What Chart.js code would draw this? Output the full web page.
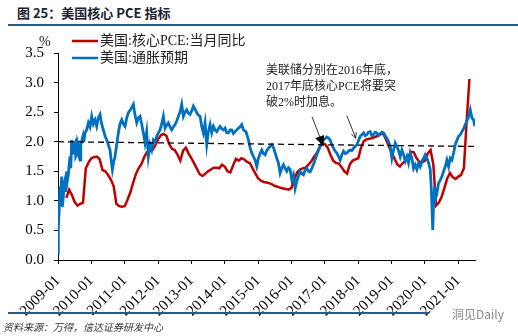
<!DOCTYPE html>
<html>
<head>
<meta charset="utf-8">
<script src="https://cdn.jsdelivr.net/npm/chart.js@4.4.1/dist/chart.umd.min.js"></script>
<style>
  body { margin: 0; background: #fff; }
  #wrap { position: relative; width: 518px; height: 336px; overflow: hidden; }
  #title { position: absolute; left: 17px; top: 3px; font: bold 13px "Noto Sans CJK SC", sans-serif; color: #1c2230; }
  .rule { position: absolute; left: 8px; height: 2px; background: #2b5a87; }
  #source { position: absolute; left: 3px; top: 319px; font: italic 10px "Noto Sans CJK SC", sans-serif; color: #333; }
  #mark { position: absolute; left: 452px; top: 305px; font: 12px "Noto Sans CJK SC", sans-serif; color: #8a8a8a; }
  canvas { position: absolute; left: 0; top: 0; }
</style>
</head>
<body>
<div id="wrap">
  <div id="title">图 25：美国核心 PCE 指标</div>
  <div class="rule" style="top:24px;width:510px;"></div>
  <canvas id="pce_chart" width="518" height="336"></canvas>
  <div class="rule" style="top:312px;width:420px;"></div>
  <div id="mark">洞见Daily</div>
  <div id="source">资料来源：万得，信达证券研发中心</div>
</div>
<script>
// x axis is months since 2009-01
const yearTicks = ['2009-01','2010-01','2011-01','2012-01','2013-01','2014-01','2015-01',
                   '2016-01','2017-01','2018-01','2019-01','2020-01','2021-01'];
const yTicks = [0, 0.5, 1, 1.5, 2, 2.5, 3, 3.5];

// core PCE yoy, monthly, first value is 2009-04 (month 3)
const pceStart = 3;
const corePce = [
  1.05,1.19,1.10,0.98,0.92,0.95,0.97,1.55,1.65,1.72,1.74,1.75,1.70,1.52,1.50,1.44,1.36,1.25,0.95,0.91,0.90,
  0.91,1.02,1.14,1.30,1.45,1.55,1.62,1.74,1.82,1.84,1.86,1.94,2.04,2.11,2.13,2.10,1.96,1.88,1.86,1.78,1.68,
  1.85,1.90,1.80,1.72,1.63,1.54,1.45,1.42,1.46,1.50,1.53,1.56,1.56,1.55,1.61,
  1.58,1.50,1.48,1.60,1.71,1.68,1.72,1.70,1.66,1.64,1.55,1.46,1.38,1.34,1.32,1.31,1.30,1.28,1.25,1.24,
  1.22,1.21,1.20,1.19,1.22,1.36,1.48,1.53,1.55,1.56,1.61,1.66,1.74,1.80,1.90,1.97,1.96,1.90,1.78,1.68,
  1.64,1.63,1.57,1.50,1.46,1.62,1.68,1.70,1.72,1.90,2.01,2.04,2.05,2.06,2.08,2.10,2.14,2.13,2.04,1.92,
  1.82,1.72,1.62,1.58,1.64,1.68,1.75,1.83,1.82,1.72,1.66,1.65,1.68,1.80,1.86,1.62,0.92,0.97,1.07,1.22,
  1.38,1.47,1.40,1.37,1.41,1.44,1.55,2.35,3.06
];

// inflation expectation, [month, value]
const expectPoints = [
  [0,0.12],[0.12,0.56],[0.5,0.9],[0.72,1.24],[1.0,1.05],[1.32,1.41],[1.56,0.90],[1.92,1.07],[2.2,1.3],
  [2.52,1.36],[2.8,1.15],[3.12,1.50],[3.4,1.35],[3.72,1.44],[4.0,1.6],[4.32,1.75],[4.6,1.55],[4.92,2.03],
  [5.2,1.8],[5.52,1.81],[5.8,1.95],[6.12,1.98],[6.4,1.75],[6.72,1.78],[7.0,2.0],[7.32,1.95],[7.6,1.75],
  [7.92,1.69],[8.2,1.95],[8.52,2.01],[9.0,2.1],[9.3,2.0],[9.72,2.15],[10.3,2.2],[10.92,2.32],[11.5,2.25],
  [12.12,2.43],[12.7,2.3],[13.32,2.37],[13.92,2.26],[14.5,2.4],[15.12,2.46],[15.7,2.3],[16.32,2.20],
  [16.9,2.1],[17.52,2.03],[18.1,1.95],[18.72,1.86],[19.1,1.7],[19.56,1.53],[20.0,1.65],[20.52,1.75],
  [21.1,1.95],[21.72,2.15],[22.3,2.3],[22.92,2.37],[23.5,2.3],[24.12,2.26],[24.7,2.4],[25.32,2.49],
  [26.2,2.55],[27.12,2.63],[27.7,2.45],[28.32,2.32],[28.9,2.4],[29.52,2.43],[30.1,2.3],[30.7,2.15],
  [31.3,1.98],[31.9,2.17],[32.5,1.75],[33.1,1.95],[33.7,1.86],[34.3,2.03],[34.9,2.0],[35.5,2.09],
  [36.1,2.15],[36.7,2.20],[37.3,2.3],[37.9,2.43],[38.5,2.23],[39.1,2.28],[39.7,2.32],[40.3,2.25],
  [40.9,2.20],[41.5,2.25],[42.1,2.29],[42.7,2.35],[43.3,2.43],[43.9,2.5],[44.5,2.63],[45.1,2.43],
  [45.7,2.5],[46.3,2.54],[46.9,2.48],[47.5,2.46],[48.1,2.52],[48.7,2.60],[49.3,2.55],[49.9,2.49],
  [50.5,2.45],[51.1,2.43],[51.7,2.26],[52.3,2.15],[52.9,2.32],[53.5,1.95],[54.1,2.17],[54.7,2.29],
  [55.3,2.15],[55.9,2.26],[56.5,2.2],[57.1,2.17],[57.7,2.22],[58.3,2.26],[58.9,2.22],[59.5,2.20],
  [60.1,2.23],[60.7,2.15],[61.3,2.15],[61.9,2.20],[62.5,2.20],[63.1,2.14],[63.7,2.17],[64.3,2.2],
  [64.9,2.23],[65.5,2.25],[66.1,2.29],[66.7,2.20],[67.6,2.17],[68.5,2.03],[69.1,1.9],[69.7,1.81],
  [70.3,1.75],[70.9,1.69],[71.5,1.58],[72.1,1.72],[72.7,1.8],[73.3,1.86],[73.9,1.8],[74.5,1.78],
  [75.1,1.85],[75.7,1.89],[76.3,1.92],[76.9,1.95],[77.5,1.9],[78.1,1.81],[78.7,1.72],[79.3,1.64],
  [79.9,1.47],[80.5,1.55],[81.1,1.61],[81.7,1.55],[82.3,1.50],[82.9,1.56],[83.5,1.53],[84.1,1.36],
  [84.7,1.44],[85.3,1.21],[85.9,1.33],[86.5,1.42],[87.1,1.50],[87.7,1.46],[88.3,1.44],[88.9,1.52],
  [89.5,1.55],[90.1,1.5],[90.7,1.49],[91.3,1.55],[91.9,1.62],[92.5,1.70],[93.1,1.78],[93.7,1.85],
  [94.3,1.92],[94.9,1.98],[95.5,2.03],[96.1,2.05],[96.7,2.08],[97.3,2.06],[97.9,2.03],[98.5,1.95],
  [99.1,1.89],[99.7,1.84],[100.3,1.81],[100.9,1.75],[101.5,1.69],[102.1,1.78],[102.7,1.84],[103.3,1.8],
  [103.9,1.81],[104.5,1.84],[105.1,1.86],[105.7,1.85],[106.3,1.89],[106.9,1.92],[107.5,1.95],[108.1,2.02],
  [108.7,2.09],[109.3,2.12],[109.9,2.15],[110.5,2.1],[111.1,2.12],[111.7,2.16],[112.3,2.17],[112.9,2.1],
  [113.5,2.12],[114.1,2.16],[114.7,2.15],[115.3,2.1],[115.9,2.12],[116.5,2.16],[117.1,2.15],[117.7,2.1],
  [118.3,2.06],[118.9,2.0],[119.5,1.92],[120.1,1.72],[120.7,1.86],[121.3,1.98],[121.9,1.92],[122.5,1.85],
  [123.1,1.75],[123.7,1.86],[124.3,1.78],[124.9,1.67],[125.5,1.75],[126.1,1.64],[126.7,1.81],[127.3,1.72],
  [127.9,1.55],[128.5,1.61],[129.1,1.53],[129.7,1.64],[130.3,1.58],[130.9,1.67],[131.5,1.72],[132.1,1.78],
  [132.7,1.72],[133.3,1.64],[133.9,1.53],[134.3,1.19],[134.8,0.51],[135.1,0.96],[135.5,1.24],[135.9,1.05],
  [136.3,1.13],[136.9,1.30],[137.5,1.35],[138.1,1.41],[138.7,1.5],[139.3,1.58],[139.9,1.69],[140.5,1.58],
  [141.1,1.72],[141.7,1.69],[142.3,1.81],[142.9,1.95],[143.5,2.03],[144.1,2.09],[144.7,2.12],[145.3,2.17],
  [145.9,2.22],[146.5,2.29],[147.1,2.35],[147.7,2.43],[148.3,2.54],[148.9,2.40],[149.5,2.37],[149.9,2.26]
];

// hand drawn 2% guide, slightly tilted
const guidePoints = [[0, 2.0], [150, 1.92]];

const annoLines = ['美联储分别在2016年底，', '2017年底核心PCE将要突', '破2%时加息。'];

const RED = '#c00000';
const BLUE = '#0070c0';
const SERIF = "'Liberation Serif', 'Noto Sans CJK SC', serif";

var pceData = corePce.map(function(v, i){ return {x: pceStart + i, y: v}; });
var expData = expectPoints.map(function(p){ return {x: p[0], y: p[1]}; });
var guideData = guidePoints.map(function(p){ return {x: p[0], y: p[1]}; });

// legend, % unit, note text and arrows
const extras = {
  id: 'extras',
  afterDraw(chart){
    const ctx = chart.ctx;
    const xs = chart.scales.x, ys = chart.scales.y;
    ctx.save();
    ctx.font = '14px ' + SERIF;
    ctx.fillStyle = '#222';
    ctx.textBaseline = 'middle';
    const items = chart.data.datasets.filter(function(d){ return d.inLegend; });
    items.forEach(function(d, i){
      const y = 41 + i * 17;
      ctx.strokeStyle = d.borderColor;
      ctx.lineWidth = 2.5;
      ctx.beginPath(); ctx.moveTo(72, y); ctx.lineTo(98, y); ctx.stroke();
      ctx.fillText(d.label, 100, y);
    });
    ctx.fillText('%', 39, 42);

    ctx.font = '12px ' + SERIF;
    annoLines.forEach(function(t, i){ ctx.fillText(t, 266, 71 + i * 16); });

    ctx.strokeStyle = '#000';
    ctx.fillStyle = '#000';
    ctx.lineWidth = 0.8;
    function arrow(x0, y0, x1, y1, head, filled){
      const ax = xs.getPixelForValue(x0), ay = ys.getPixelForValue(y0);
      const bx = xs.getPixelForValue(x1), by = ys.getPixelForValue(y1);
      const ang = Math.atan2(by - ay, bx - ax);
      ctx.beginPath(); ctx.moveTo(ax, ay); ctx.lineTo(bx, by); ctx.stroke();
      const l1x = bx - head * Math.cos(ang - 0.45), l1y = by - head * Math.sin(ang - 0.45);
      const l2x = bx - head * Math.cos(ang + 0.45), l2y = by - head * Math.sin(ang + 0.45);
      ctx.beginPath();
      ctx.moveTo(l1x, l1y); ctx.lineTo(bx, by); ctx.lineTo(l2x, l2y);
      if (filled) { ctx.closePath(); ctx.fill(); } else { ctx.stroke(); }
    }
    arrow(91.4, 2.42, 95.4, 1.93, 11, true);
    arrow(103.9, 2.44, 107.1, 2.06, 6, false);
    ctx.restore();
  }
};

var ctx = document.getElementById('pce_chart').getContext('2d');
const chrt = new Chart(ctx, {
  type: 'line',
  data: {
    datasets: [{
      label: '美国:核心PCE:当月同比',
      data: pceData,
      borderColor: RED,
      borderWidth: 2.5,
      order: 2,
      inLegend: true
    }, {
      label: '美国:通胀预期',
      data: expData,
      borderColor: BLUE,
      borderWidth: 2.8,
      order: 1,
      inLegend: true
    }, {
      label: 'guide',
      data: guideData,
      borderColor: '#000',
      borderWidth: 1.3,
      borderDash: [6, 4],
      order: 0
    }]
  },
  options: {
    responsive: false,
    animation: false,
    layout: { padding: { left: 14, top: 53, right: 43, bottom: 20 } },
    elements: { point: { radius: 0 }, line: { tension: 0, fill: false } },
    plugins: { legend: { display: false }, tooltip: { enabled: false } },
    scales: {
      x: {
        type: 'linear', min: 0, max: 150,
        afterBuildTicks: function(scale){ scale.ticks = yearTicks.map(function(t, i){ return {value: i * 12}; }); },
        afterFit: function(scale){ scale.height = 56; },
        ticks: {
          autoSkip: false, maxRotation: 45, minRotation: 45, padding: 8,
          color: '#000', font: { family: SERIF, size: 15 },
          callback: function(v){ return yearTicks[Math.round(v / 12)]; }
        },
        grid: { display: true, drawOnChartArea: false, drawTicks: true, tickLength: 4, color: '#000' },
        border: { display: true, color: '#000', width: 1 }
      },
      y: {
        min: 0, max: 3.5,
        afterBuildTicks: function(scale){ scale.ticks = yTicks.map(function(v){ return {value: v}; }); },
        afterFit: function(scale){ scale.width = 44; },
        ticks: {
          padding: 10, color: '#000', font: { family: SERIF, size: 15 },
          callback: function(v){ return v.toFixed(1); }
        },
        grid: { display: true, drawOnChartArea: false, drawTicks: true, tickLength: 4, color: '#000' },
        border: { display: true, color: '#000', width: 1 }
      }
    }
  },
  plugins: [extras]
});
</script>
</body>
</html>
